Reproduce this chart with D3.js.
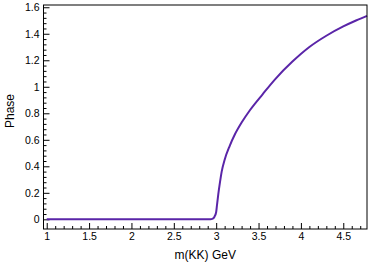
<!DOCTYPE html>
<html>
<head>
<meta charset="utf-8">
<script src="https://cdn.jsdelivr.net/npm/d3@7"></script>
<style>
  body { margin: 0; background: #fff; }
  svg { display: block; }
  text { font-family: "Liberation Sans", Arial, Helvetica, sans-serif; fill: #000; }
</style>
</head>
<body>
<svg id="chart" width="374" height="264"></svg>
<script>
// phase vs. m(KK)
const mass  = [1.0, 1.5, 2.0, 2.5, 2.8, 2.9, 2.93, 2.96, 2.98, 3.0, 3.01, 3.025, 3.045, 3.065, 3.1, 3.16, 3.22, 3.3, 3.4, 3.55, 3.7, 3.9, 4.1, 4.3, 4.5, 4.65, 4.78];
const phase = [0, 0, 0, 0, 0, 0, 0, 0.005, 0.02, 0.055, 0.11, 0.19, 0.28, 0.36, 0.45, 0.555, 0.64, 0.73, 0.825, 0.945, 1.06, 1.19, 1.3, 1.385, 1.455, 1.5, 1.535];

const xTicks = [1, 1.5, 2, 2.5, 3, 3.5, 4, 4.5];
const yTicks = [0, 0.2, 0.4, 0.6, 0.8, 1, 1.2, 1.4, 1.6];
const xTitle = 'm(KK) GeV';
const yTitle = 'Phase';

const width = 374, height = 264;
const margin = {top: 5, right: 7, bottom: 35, left: 43.5};
const w = width - margin.left - margin.right;
const h = height - margin.top - margin.bottom;

const svg = d3.select('#chart');
const g = svg.append('g')
  .attr('transform', 'translate(' + margin.left + ',' + margin.top + ')');

const x = d3.scaleLinear().domain([0.962, 4.78]).range([0, w]);
const y = d3.scaleLinear().domain([-0.073, 1.617]).range([h, 0]);

// minor ticks (ROOT style, pointing inward)
const xMinor = d3.range(10, 48).map(d => d / 10).filter(d => !xTicks.includes(d));
const yMinor = d3.range(0, 41).map(d => d * 0.04).filter(d => d <= 1.6 && yTicks.every(t => Math.abs(t - d) > 1e-6));

const fmt = d => String(+d.toFixed(1));

g.append('g')
  .attr('transform', 'translate(0,' + h + ')')
  .call(d3.axisBottom(x).tickValues(xTicks).tickSize(-6).tickPadding(3.5).tickFormat(fmt));
g.append('g')
  .attr('transform', 'translate(0,' + h + ')')
  .call(d3.axisBottom(x).tickValues(xMinor).tickSize(-3).tickFormat(''));

g.append('g')
  .call(d3.axisLeft(y).tickValues(yTicks).tickSize(-6).tickPadding(4).tickFormat(fmt));
g.append('g')
  .call(d3.axisLeft(y).tickValues(yMinor).tickSize(-3).tickFormat(''));

g.selectAll('.domain').remove();
g.selectAll('.tick line').attr('stroke', '#000');
g.selectAll('.tick text').style('font-size', '10.5px');

// the curve
const line = d3.line()
  .x((d, i) => x(mass[i]))
  .y(d => y(d))
  .curve(d3.curveMonotoneX);

g.append('path')
  .datum(phase)
  .attr('d', line)
  .attr('fill', 'none')
  .attr('stroke', '#5a25a8')
  .attr('stroke-width', 2);

// frame
g.append('rect')
  .attr('width', w)
  .attr('height', h)
  .attr('fill', 'none')
  .attr('stroke', '#000')
  .attr('stroke-width', 1);

// titles
svg.append('text')
  .attr('x', margin.left + w / 2)
  .attr('y', 259)
  .attr('text-anchor', 'middle')
  .style('font-size', '12px')
  .text(xTitle);

svg.append('text')
  .attr('transform', 'translate(14,' + 111 + ') rotate(-90)')
  .attr('text-anchor', 'middle')
  .style('font-size', '12px')
  .text(yTitle);
</script>
</body>
</html>
